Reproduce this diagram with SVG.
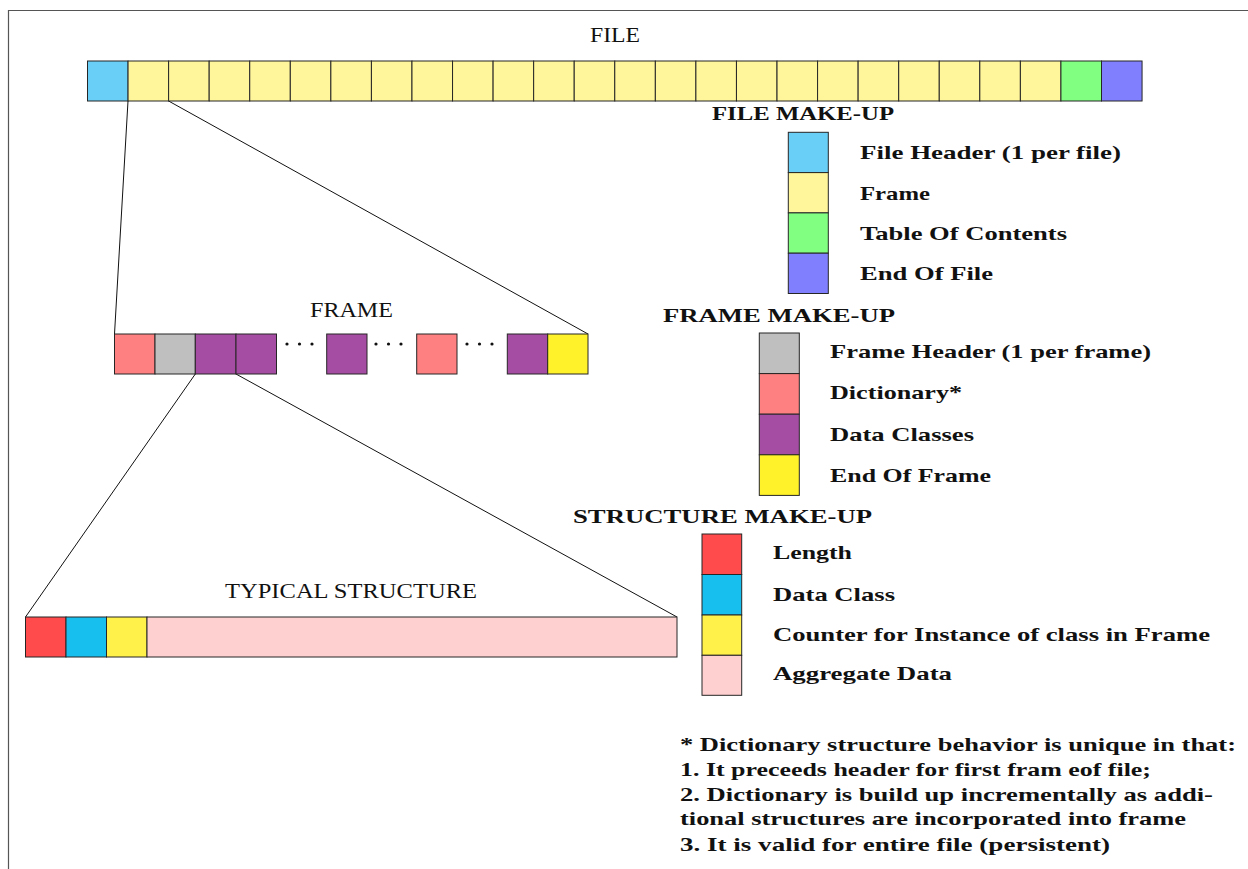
<svg xmlns="http://www.w3.org/2000/svg" width="1248" height="869" viewBox="0 0 1248 869">
<style>
.c{stroke:#262626;stroke-width:1}
.t{font-family:"Liberation Serif","Times New Roman",serif;font-size:20px;fill:#111}
.b{font-family:"Liberation Serif","Times New Roman",serif;font-size:19px;font-weight:bold;fill:#111}
.ln{stroke:#111;stroke-width:1;fill:none}
.fh{fill:#6ACFF6}.fr{fill:#FFF59B}.toc{fill:#80FF80}.eof{fill:#8080FF}
.hd{fill:#BFBFBF}.dc{fill:#FF8080}.dcl{fill:#A54DA3}.eofr{fill:#FFF22A}
.len{fill:#FF4B4B}.cls{fill:#17BFEF}.cnt{fill:#FFF04A}.agg{fill:#FFD0D0}
</style>
<rect width="1248" height="869" fill="#fff"/>
<path d="M8.5 869 V10.5 H1248" fill="none" stroke="#555" stroke-width="1.2"/>

<g id="connectors">
<line class="ln" x1="128" y1="101" x2="114.5" y2="334"/>
<line class="ln" x1="168.6" y1="101" x2="588" y2="334"/>
<line class="ln" x1="195.3" y1="374" x2="25.5" y2="617"/>
<line class="ln" x1="236" y1="374" x2="677" y2="617"/>
</g>

<g id="file">
<text class="t" x="590" y="42" textLength="50" lengthAdjust="spacingAndGlyphs">FILE</text>
<rect class="c fh" x="87.5" y="61" width="40.56" height="40"/>
<rect class="c fr" x="128.06" y="61" width="40.56" height="40"/>
<rect class="c fr" x="168.62" y="61" width="40.56" height="40"/>
<rect class="c fr" x="209.18" y="61" width="40.56" height="40"/>
<rect class="c fr" x="249.74" y="61" width="40.56" height="40"/>
<rect class="c fr" x="290.3" y="61" width="40.56" height="40"/>
<rect class="c fr" x="330.86" y="61" width="40.56" height="40"/>
<rect class="c fr" x="371.42" y="61" width="40.56" height="40"/>
<rect class="c fr" x="411.98" y="61" width="40.56" height="40"/>
<rect class="c fr" x="452.54" y="61" width="40.56" height="40"/>
<rect class="c fr" x="493.1" y="61" width="40.56" height="40"/>
<rect class="c fr" x="533.66" y="61" width="40.56" height="40"/>
<rect class="c fr" x="574.22" y="61" width="40.56" height="40"/>
<rect class="c fr" x="614.78" y="61" width="40.56" height="40"/>
<rect class="c fr" x="655.34" y="61" width="40.56" height="40"/>
<rect class="c fr" x="695.9" y="61" width="40.56" height="40"/>
<rect class="c fr" x="736.46" y="61" width="40.56" height="40"/>
<rect class="c fr" x="777.02" y="61" width="40.56" height="40"/>
<rect class="c fr" x="817.58" y="61" width="40.56" height="40"/>
<rect class="c fr" x="858.14" y="61" width="40.56" height="40"/>
<rect class="c fr" x="898.7" y="61" width="40.56" height="40"/>
<rect class="c fr" x="939.26" y="61" width="40.56" height="40"/>
<rect class="c fr" x="979.82" y="61" width="40.56" height="40"/>
<rect class="c fr" x="1020.38" y="61" width="40.56" height="40"/>
<rect class="c toc" x="1060.94" y="61" width="40.56" height="40"/>
<rect class="c eof" x="1101.5" y="61" width="40.56" height="40"/>
</g>

<g id="frame">
<text class="t" x="310" y="317" textLength="83" lengthAdjust="spacingAndGlyphs">FRAME</text>
<rect class="c dc" x="114.5" y="334" width="40.5" height="40"/>
<rect class="c hd" x="155" y="334" width="40.3" height="40"/>
<rect class="c dcl" x="195.3" y="334" width="40.7" height="40"/>
<rect class="c dcl" x="236" y="334" width="40.5" height="40"/>
<rect class="c dcl" x="326.7" y="334" width="40.3" height="40"/>
<rect class="c dc" x="416.7" y="334" width="40.3" height="40"/>
<rect class="c dcl" x="507.3" y="334" width="40.4" height="40"/>
<rect class="c eofr" x="547.7" y="334" width="40.3" height="40"/>
<g fill="#111">
<circle cx="287" cy="344" r="1.6"/><circle cx="299.5" cy="344" r="1.6"/><circle cx="312" cy="344" r="1.6"/>
<circle cx="376" cy="344" r="1.6"/><circle cx="388.5" cy="344" r="1.6"/><circle cx="401" cy="344" r="1.6"/>
<circle cx="467" cy="344" r="1.6"/><circle cx="479.5" cy="344" r="1.6"/><circle cx="492" cy="344" r="1.6"/>
</g>
</g>

<g id="structure">
<text class="t" x="225" y="598" textLength="252" lengthAdjust="spacingAndGlyphs">TYPICAL STRUCTURE</text>
<rect class="c len" x="25.5" y="617" width="40.5" height="40"/>
<rect class="c cls" x="66" y="617" width="40.5" height="40"/>
<rect class="c cnt" x="106.5" y="617" width="40.5" height="40"/>
<rect class="c agg" x="147" y="617" width="530" height="40"/>
</g>

<g id="legend-file">
<text class="b" x="712" y="120" textLength="182" lengthAdjust="spacingAndGlyphs">FILE MAKE-UP</text>
<rect class="c fh" x="788.3" y="132.3" width="40" height="40.3"/>
<rect class="c fr" x="788.3" y="172.6" width="40" height="40.3"/>
<rect class="c toc" x="788.3" y="212.9" width="40" height="40.3"/>
<rect class="c eof" x="788.3" y="253.2" width="40" height="40.3"/>
<text class="b" x="860" y="159" textLength="261" lengthAdjust="spacingAndGlyphs">File Header (1 per file)</text>
<text class="b" x="860" y="200" textLength="70" lengthAdjust="spacingAndGlyphs">Frame</text>
<text class="b" x="860" y="240" textLength="207" lengthAdjust="spacingAndGlyphs">Table Of Contents</text>
<text class="b" x="860" y="280" textLength="133" lengthAdjust="spacingAndGlyphs">End Of File</text>
</g>

<g id="legend-frame">
<text class="b" x="663" y="322" textLength="232" lengthAdjust="spacingAndGlyphs">FRAME MAKE-UP</text>
<rect class="c hd" x="759.3" y="333" width="40" height="40.6"/>
<rect class="c dc" x="759.3" y="373.6" width="40" height="40.6"/>
<rect class="c dcl" x="759.3" y="414.2" width="40" height="40.6"/>
<rect class="c eofr" x="759.3" y="454.8" width="40" height="40.6"/>
<text class="b" x="830" y="358" textLength="321" lengthAdjust="spacingAndGlyphs">Frame Header (1 per frame)</text>
<text class="b" x="830" y="399" textLength="132" lengthAdjust="spacingAndGlyphs">Dictionary*</text>
<text class="b" x="830" y="441" textLength="144" lengthAdjust="spacingAndGlyphs">Data Classes</text>
<text class="b" x="830" y="482" textLength="161" lengthAdjust="spacingAndGlyphs">End Of Frame</text>
</g>

<g id="legend-structure">
<text class="b" x="573" y="523" textLength="299" lengthAdjust="spacingAndGlyphs">STRUCTURE MAKE-UP</text>
<rect class="c len" x="702" y="534" width="39.7" height="40.5"/>
<rect class="c cls" x="702" y="574.5" width="39.7" height="40.5"/>
<rect class="c cnt" x="702" y="615" width="39.7" height="40.3"/>
<rect class="c agg" x="702" y="655.3" width="39.7" height="40"/>
<text class="b" x="773" y="559" textLength="79" lengthAdjust="spacingAndGlyphs">Length</text>
<text class="b" x="773" y="601" textLength="122" lengthAdjust="spacingAndGlyphs">Data Class</text>
<text class="b" x="773" y="641" textLength="437" lengthAdjust="spacingAndGlyphs">Counter for Instance of class in Frame</text>
<text class="b" x="773" y="680" textLength="179" lengthAdjust="spacingAndGlyphs">Aggregate Data</text>
</g>

<g id="note">
<text class="b" x="680" y="751" textLength="556" lengthAdjust="spacingAndGlyphs">* Dictionary structure behavior is unique in that:</text>
<text class="b" x="680" y="776" textLength="471" lengthAdjust="spacingAndGlyphs">1. It preceeds header for first fram eof file;</text>
<text class="b" x="680" y="801" textLength="533" lengthAdjust="spacingAndGlyphs">2. Dictionary is build up incrementally as addi-</text>
<text class="b" x="680" y="825" textLength="506" lengthAdjust="spacingAndGlyphs">tional structures are incorporated into frame</text>
<text class="b" x="680" y="851" textLength="430" lengthAdjust="spacingAndGlyphs">3. It is valid for entire file (persistent)</text>
</g>
</svg>
